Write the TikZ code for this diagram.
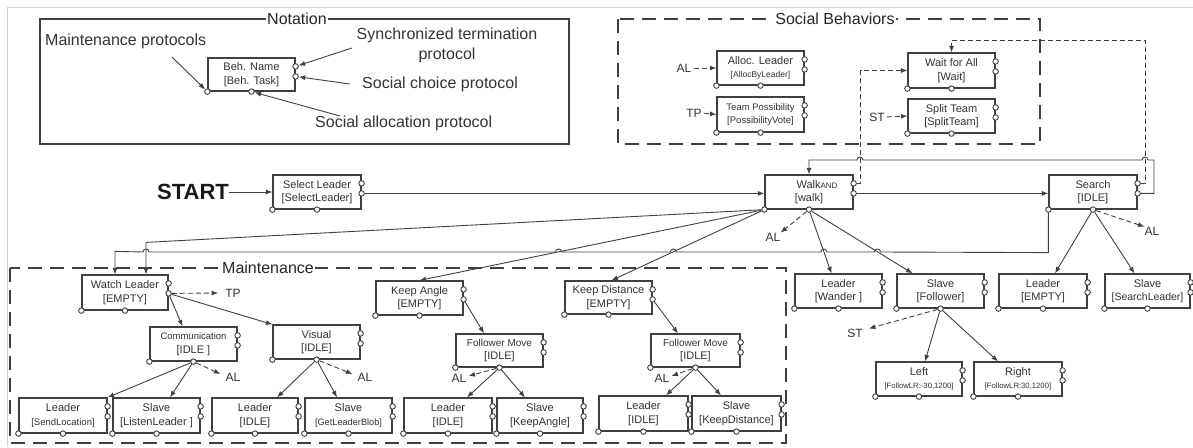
\documentclass[tikz,border=0pt]{standalone}
\usepackage{fontspec}
\setmainfont{Liberation Sans}
\usetikzlibrary{arrows.meta,calc}
\definecolor{ln}{HTML}{404040}
\definecolor{tx}{HTML}{333333}
\newcommand\fsz[1]{\fontsize{#1}{13.5}\selectfont}
\tikzset{
  bbox/.style={draw=ln, line width=1.2pt, fill=white, inner sep=0pt, align=center, text=tx, font=\fsz{11}},
  port/.style={circle, draw=ln, fill=white, line width=0.9pt, minimum size=5.5pt, inner sep=0pt},
  conn/.style={draw=ln, line width=0.9pt, -{Latex[length=6.5pt,width=5pt]}},
  dconn/.style={conn, dash pattern=on 5pt off 3pt},
  lbl/.style={font=\fontsize{12}{12}\selectfont, text=tx, inner sep=0pt},
  grp/.style={draw=ln, line width=1.3pt},
  dgrp/.style={grp, dash pattern=on 14pt off 8pt},
  gtitle/.style={fill=white, inner sep=1pt, font=\fontsize{16}{16}\selectfont, text=black!85},
  ntxt/.style={font=\fontsize{16}{20}\selectfont, text=tx, inner sep=0pt, align=center},
}
\newcommand\behbox[6]{%
  \node[bbox, minimum width={#4-#2}, minimum height={#5-#3}] (#1) at ({(#2+#4)/2},{(#3+#5)/2}) {#6};
  \node[port] (#1-bl) at (#1.south west) {};
  \node[port] (#1-bm) at (#1.south) {};
  \node[port] (#1-ra) at ([yshift=-9pt]#1.north east) {};
  \node[port] (#1-rb) at ([yshift=-19pt]#1.north east) {};
}
\begin{document}
\begin{tikzpicture}[x=1pt,y=-1pt]
\useasboundingbox (0,0) rectangle (1193,447);
\draw[gray!35, line width=1pt] (7,447) -- (7,7) -- (1193,7);

% groups
\draw[grp] (40,19) rectangle (569,144);
\draw[dgrp] (618,19) rectangle (1040,144);
\draw[dgrp] (10,268) rectangle (786,443);
\node[gtitle] (notT) at (297,19) {Notation};
\node[gtitle] (sbT) at (835,19) {Social Behaviors};
\node[gtitle] (mtT) at (268,268) {Maintenance};

% notation
\behbox{Beh}{208}{58}{295}{91}{Beh. Name\\{}[Beh. Task]}
\node[ntxt, anchor=west] (mp) at (45,41) {Maintenance protocols};
\node[ntxt] (stp) at (447,45) {Synchronized termination\\protocol};
\node[ntxt, anchor=west] (scp) at (362,84) {Social choice protocol};
\node[ntxt, anchor=west] (sap) at (315,123) {Social allocation protocol};
\coordinate (mpA) at (172,57);
\coordinate (stA) at (352,48);
\coordinate (scA) at (350,84);
\coordinate (saA) at (340,116);
\draw[conn] (mpA) -- (Beh-bl);
\draw[conn] (stA) -- (Beh-ra);
\draw[conn] (scA) -- (Beh-rb);
\draw[conn] (saA) -- (Beh-bm);

% social behaviors
\behbox{AB}{717}{51}{804}{85}{Alloc. Leader\\{\fsz{8.5}[AllocByLeader]}}
\behbox{TPB}{717}{97}{804}{132}{\fsz{9.5}Team Possibility\\{\fsz{9.5}[PossibilityVote]}}
\behbox{WA}{908}{53}{995}{88}{Wait for All\\{}[Wait]}
\behbox{STB}{908}{99}{995}{133}{Split Team\\{}[SplitTeam]}
\node[lbl] (alB) at (684,68) {AL};
\node[lbl] (tpB) at (694,113) {TP};
\node[lbl] (stB) at (877,117) {ST};
\draw[dconn, shorten <=2pt] (alB.east) -- (AB.west);
\draw[dconn, shorten <=2pt] (tpB.east) -- (TPB.west);
\draw[dconn, shorten <=2pt] (stB.east) -- (STB.west);

% main row
\node[font=\fontsize{22}{22}\selectfont\bfseries, text=black!90, inner sep=0pt] (start) at (193,192) {START};
\behbox{SL}{273}{175}{361}{209}{Select Leader\\{}[SelectLeader]}
\behbox{Walk}{765}{175}{853}{209}{\hspace*{16pt}Walk{\fsz{8}AND}\\{}[walk]}
\behbox{Search}{1049}{175}{1137}{209}{Search\\{}[IDLE]}

% maintenance boxes
\behbox{WL}{82}{275}{168}{310}{Watch Leader\\{}[EMPTY]}
\behbox{CM}{150}{327}{237}{361}{\fsz{9.5}Communication\\{}[IDLE ]}
\behbox{VI}{273}{325}{360}{359}{Visual\\{}[IDLE]}
\behbox{L1}{19}{398}{107}{433}{Leader\\{\fsz{9.5}[SendLocation]}}
\behbox{S1}{113}{398}{200}{433}{Slave\\{}[ListenLeader ]}
\behbox{L2}{212}{398}{298}{433}{Leader\\{}[IDLE]}
\behbox{S2}{305}{398}{392}{433}{Slave\\{\fsz{9.2}[GetLeaderBlob]}}
\behbox{KA}{376}{281}{463}{315}{Keep Angle\\{}[EMPTY]}
\behbox{FM1}{456}{334}{543}{367}{\fsz{10}Follower Move\\{}[IDLE]}
\behbox{L3}{404}{398}{492}{433}{Leader\\{}[IDLE]}
\behbox{S3}{497}{398}{583}{433}{Slave\\{}[KeepAngle]}
\behbox{KD}{565}{281}{652}{314}{Keep Distance\\{}[EMPTY]}
\behbox{FM2}{651}{334}{740}{367}{\fsz{10}Follower Move\\{}[IDLE]}
\behbox{L4}{599}{396}{688}{431}{Leader\\{}[IDLE]}
\behbox{S4}{692}{396}{781}{431}{Slave\\{}[KeepDistance]}

% right side boxes
\behbox{LW}{795}{274}{882}{308}{Leader\\{}[Wander ]}
\behbox{SF}{897}{274}{984}{308}{Slave\\{}[Follower]}
\behbox{LE}{999}{274}{1087}{308}{Leader\\{}[EMPTY]}
\behbox{SS}{1105}{274}{1190}{308}{Slave\\{\fsz{10.5}[SearchLeader]}}
\behbox{LF}{876}{362}{962}{396}{Left\\{\fsz{7.7}[FollowLR:-30,1200]}}
\behbox{RF}{974}{362}{1062}{396}{Right\\{\fsz{7.7}[FollowLR:30,1200]}}

% labels
\node[lbl] (alW) at (773,237) {AL};
\node[lbl] (alS) at (1152,231) {AL};
\node[lbl] (stF) at (855,333) {ST};
\node[lbl] (tpW) at (233,293) {TP};
\node[lbl] (alC) at (233,377) {AL};
\node[lbl] (alV) at (365,377) {AL};
\node[lbl] (alF1) at (459,378) {AL};
\node[lbl] (alF2) at (662,378) {AL};

% main flow
\draw[conn] (start) -- (SL.west);
\draw[conn] (SL-rb) -- (SL-rb -| Walk.west);
\draw[conn] (Walk-rb) -- (Walk-rb -| Search.west);

% feedback loops
\coordinate (fbA) at (1154,160);
\draw[conn] (Search-rb) -| (fbA) -- (1148,160) arc[start angle=0,end angle=180,radius=3pt]
  -- (863,160) arc[start angle=0,end angle=180,radius=3pt] -- (Walk.north |- fbA) -- (Walk.north);
\draw[dconn] (Walk-ra) -- ++(7,0) |- (WA.west);
\coordinate (sbA) at (1145,40);
\draw[dconn] (Search-ra) -| (sbA) -| (WA.north);

% Walk outputs
\draw[conn] (Walk-bl) -- ([xshift=21pt,yshift=32pt]WL.north) -- ([xshift=21pt]WL.north);
\draw[conn] (Search-bl) -- ++(0,43) -- (880.5,252) arc[start angle=0,end angle=180,radius=3pt]
  -- (826.9,252) arc[start angle=0,end angle=180,radius=3pt]
  -- (676.3,252) arc[start angle=0,end angle=180,radius=3pt]
  -- (561.7,252) arc[start angle=0,end angle=180,radius=3pt]
  -- (149,252) arc[start angle=0,end angle=180,radius=3pt]
  -- ([xshift=-10pt,yshift=23pt]WL.north) -- ([xshift=-10pt]WL.north);
\draw[conn] (Walk-bl) -- (KA.north);
\draw[conn] (Walk-bl) -- ([xshift=3pt]KD.north);
\draw[dconn] (Walk-bm) -- (alW.north east);
\draw[conn] (Walk-bm) -- ([xshift=-7pt]LW.north);
\draw[conn] (Walk-bm) -- ([xshift=-28pt]SF.north);

% Search outputs
\draw[dconn] (Search-bm) -- (alS.north west);
\draw[conn] (Search-bm) -- ([xshift=12pt]LE.north);
\draw[conn] (Search-bm) -- ([xshift=-13pt]SS.north);

% Follower outputs
\draw[dconn] (SF-bm) -- ([xshift=6pt]stF.north east);
\draw[conn] (SF-bm) -- ([xshift=6pt]LF.north);
\draw[conn] (SF-bm) -- ([xshift=-20pt]RF.north);

% maintenance
\draw[dconn] (WL-rb) -- ([xshift=-7pt]tpW.west);
\draw[conn] (WL-rb) -- ([xshift=-11pt]CM.north);
\draw[conn] (WL-rb) -- (VI.north west);
\draw[conn] (CM-bm) -- (L1.north east);
\draw[conn] (CM-bm) -- ([xshift=13.5pt]S1.north);
\draw[dconn] (CM-bm) -- ([xshift=-5pt,yshift=3pt]alC.west);
\draw[conn] (VI-bm) -- ([xshift=22pt]L2.north);
\draw[conn] (VI-bm) -- ([xshift=-11.5pt]S2.north);
\draw[dconn] (VI-bm) -- ([xshift=-5pt,yshift=3pt]alV.west);
\draw[conn] (KA-rb) -- ([xshift=-15.5pt]FM1.north);
\draw[dconn] (FM1-bm) -- ([xshift=2pt,yshift=2pt]alF1.east);
\draw[conn] (FM1-bm) -- ([xshift=19pt]L3.north);
\draw[conn] (FM1-bm) -- ([xshift=-15pt]S3.north);
\draw[conn] (KD-rb) -- ([xshift=-17.5pt]FM2.north);
\draw[dconn] (FM2-bm) -- ([xshift=2pt,yshift=2pt]alF2.east);
\draw[conn] (FM2-bm) -- ([xshift=22.5pt]L4.north);
\draw[conn] (FM2-bm) -- ([xshift=-15.5pt]S4.north);
\end{tikzpicture}
\end{document}
